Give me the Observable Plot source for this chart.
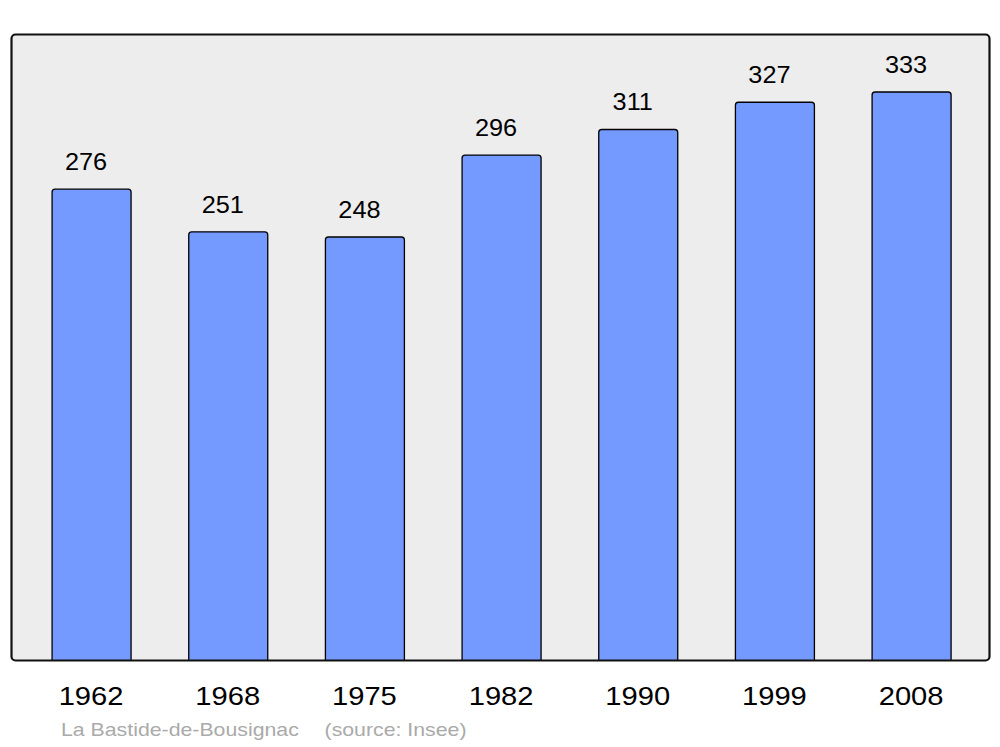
<!DOCTYPE html>
<html>
<head>
<meta charset="utf-8">
<script src="https://cdn.jsdelivr.net/npm/d3@7"></script>
<script src="https://cdn.jsdelivr.net/npm/@observablehq/plot@0.6"></script>
<style>
  html, body { margin: 0; padding: 0; background: #ffffff; }
  #chart svg { display: block; }
  #caption {
    font-family: "Liberation Sans", Arial, sans-serif;
    font-size: 19px;
    color: #aaaaaa;
    line-height: 30px;
    padding-left: 61px;
    white-space: pre;
    transform: scaleX(1.12);
    transform-origin: 61px 0;
  }
  #caption .src { margin-left: 23px; }
</style>
</head>
<body>
<div id="chart"></div>
<div id="caption"><span>La Bastide-de-Bousignac</span><span class="src">(source: Insee)</span></div>
<script>
const years = ["1962", "1968", "1975", "1982", "1990", "1999", "2008"];
const population = [276, 251, 248, 296, 311, 327, 333];
const yMax = 367;

const data = years.map((y, i) => ({year: y, pop: population[i]}));

const chart = Plot.plot({
  width: 1000,
  height: 715,
  marginTop: 34,
  marginBottom: 55,
  marginLeft: 11,
  marginRight: 11,
  style: {fontFamily: "'Liberation Sans', Arial, sans-serif", background: "#ffffff", overflow: "visible"},
  x: {type: "band", domain: years, paddingInner: 0.422, paddingOuter: 0.289, align: 0.52, round: false, axis: null},
  y: {domain: [0, yMax], axis: null},
  marks: [
    Plot.frame({fill: "#ededed", stroke: "none", rx: 4}),
    Plot.rectY(data, {
      x: "year",
      y1: () => -4,
      y2: "pop",
      fill: "#7499ff",
      stroke: "#000000",
      strokeWidth: 1.3,
      rx: 3,
      clip: "frame"
    }),
    Plot.frame({stroke: "#111111", strokeWidth: 2.2, rx: 4}),
    Plot.text(data, {
      x: "year",
      y: "pop",
      text: d => String(d.pop),
      dy: -27,
      dx: -6,
      lineAnchor: "middle",
      fontSize: 23,
      fill: "#000000"
    }),
    Plot.text(years, {
      x: d => d,
      frameAnchor: "bottom",
      lineAnchor: "middle",
      dy: 35.7,
      dx: -1,
      fontSize: 26.5,
      fill: "#000000"
    })
  ]
});

chart.querySelectorAll("text").forEach(el => {
  const x = +(el.getAttribute("x") || 0);
  const t = el.getAttribute("transform") || "";
  el.setAttribute("transform", `${t} translate(${x},0) scale(1.1,1) translate(${-x},0)`);
});

document.getElementById("chart").appendChild(chart);
</script>
</body>
</html>
